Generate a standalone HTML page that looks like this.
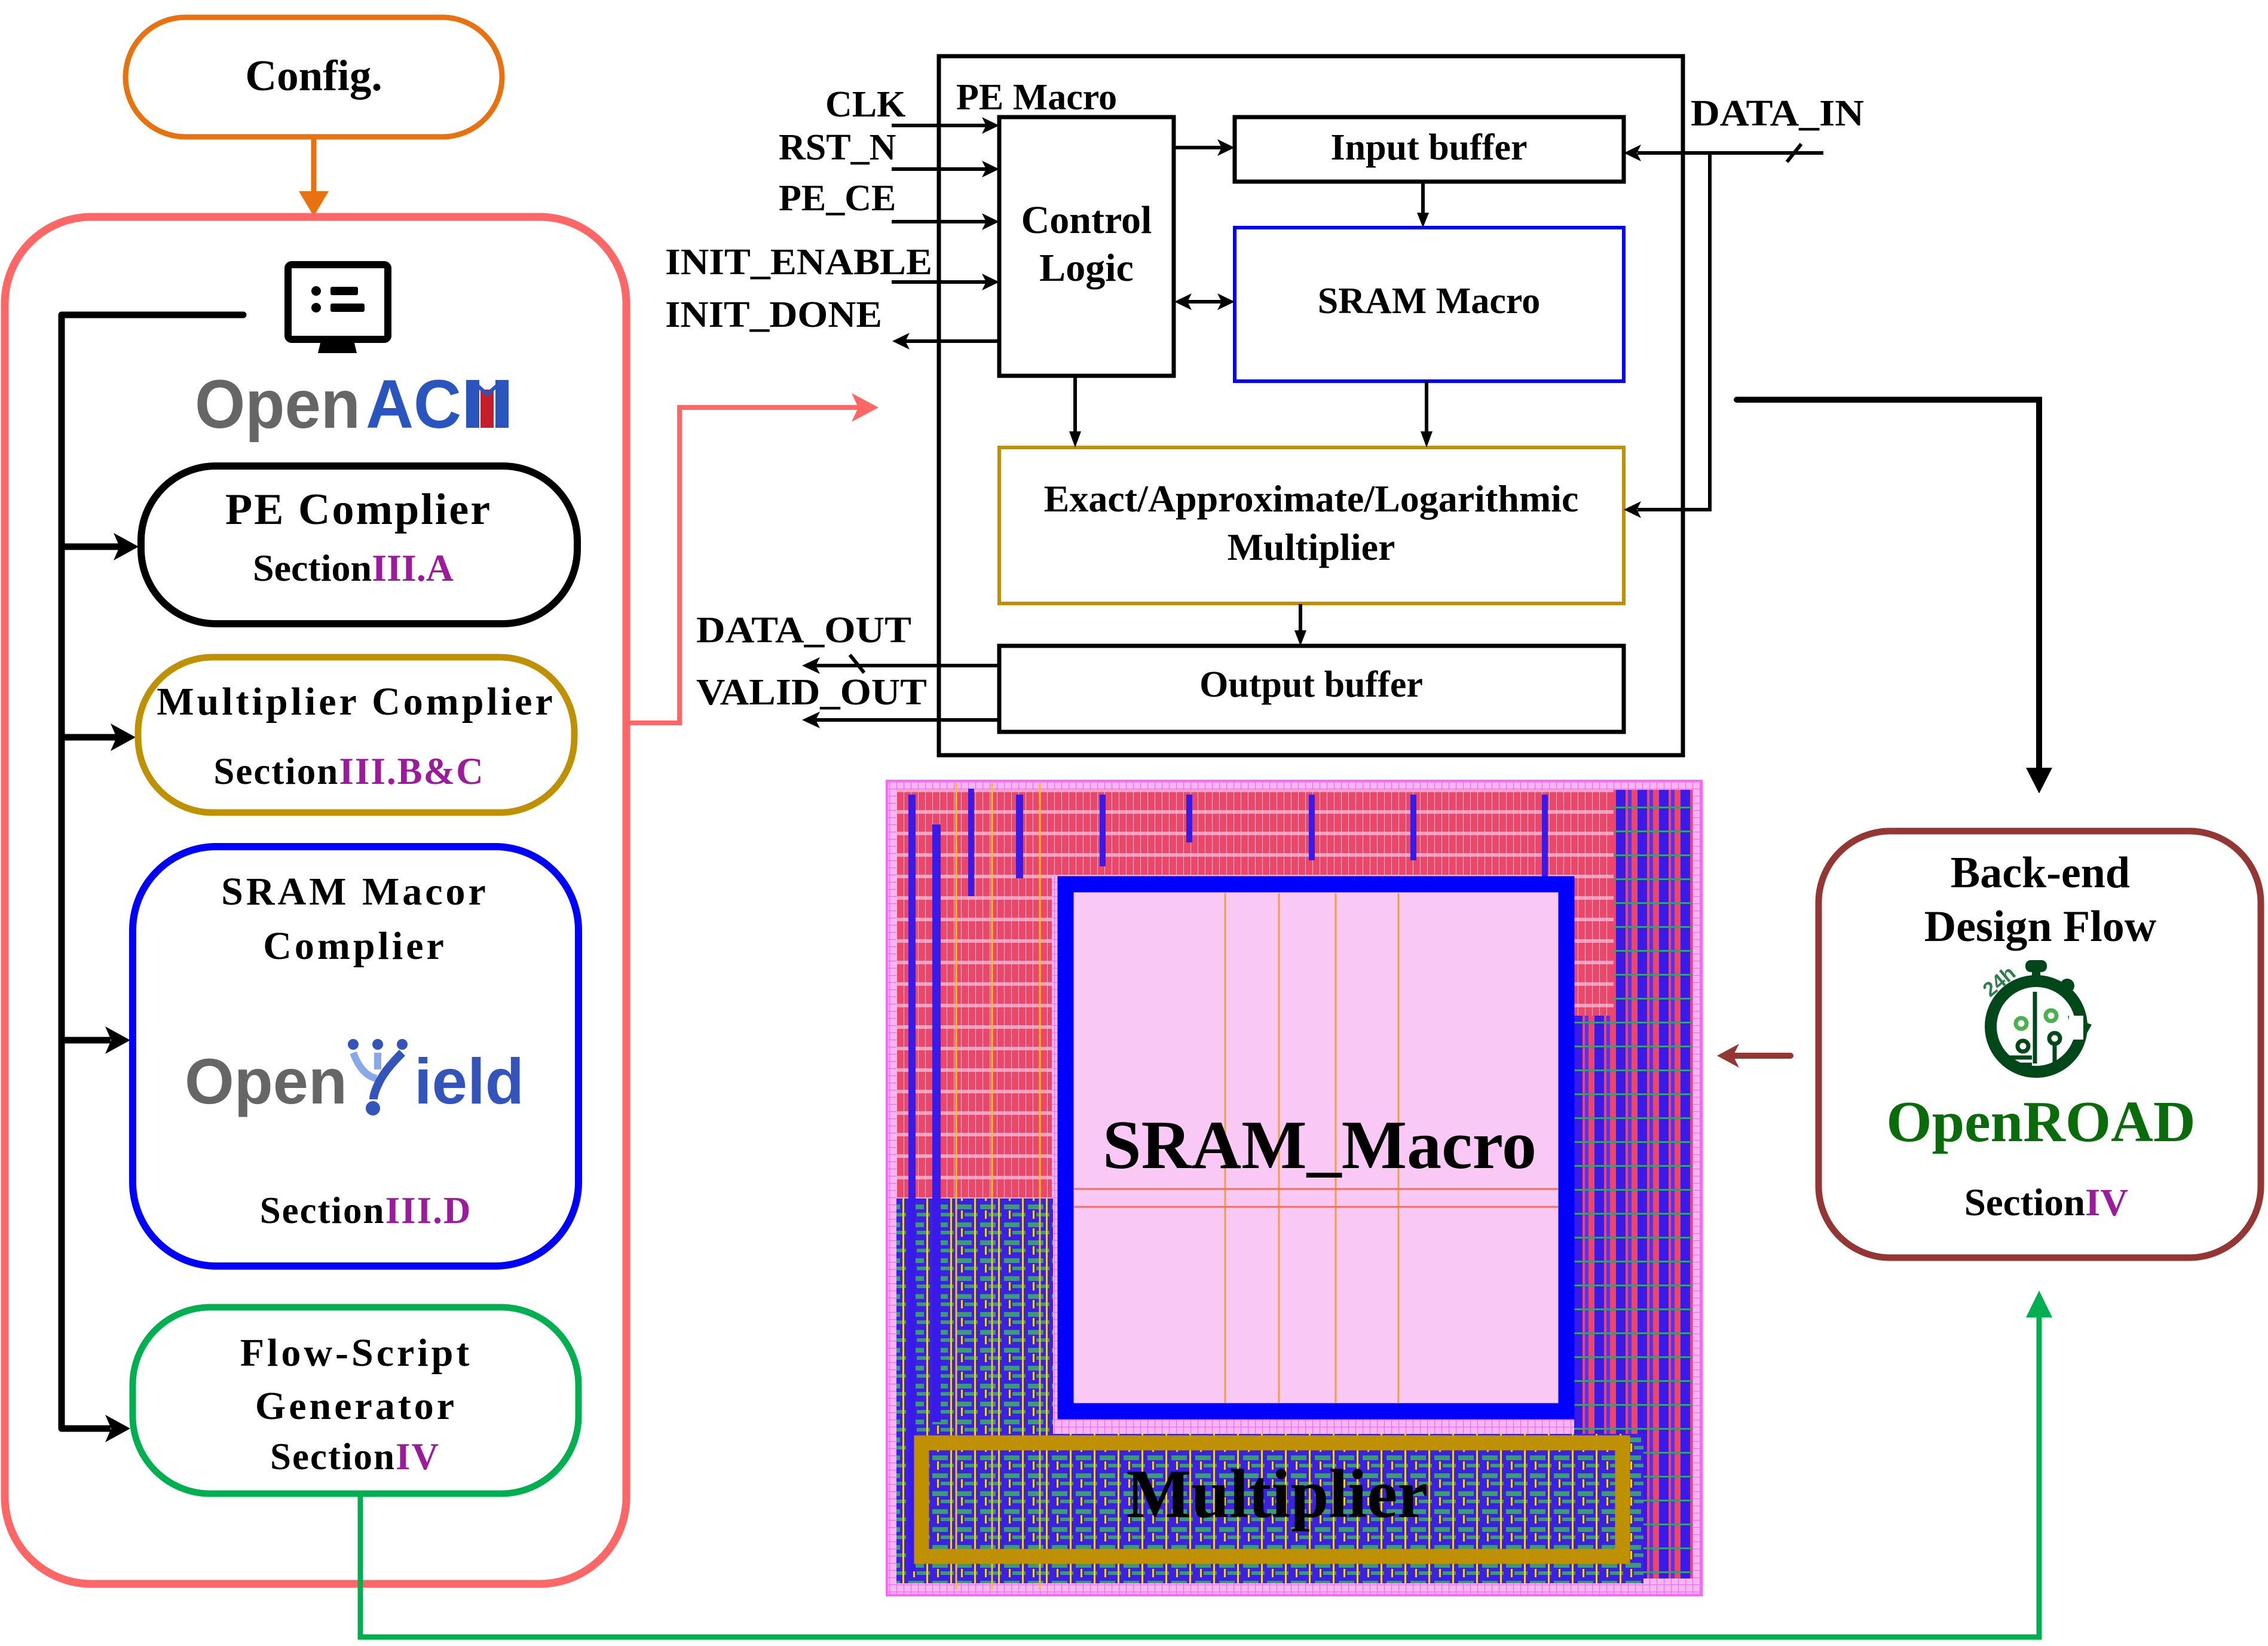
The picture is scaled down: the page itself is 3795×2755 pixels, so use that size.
<!DOCTYPE html>
<html><head><meta charset="utf-8"><style>
html,body{margin:0;padding:0;background:#fff;}
svg{display:block;}
.t{font-family:"Liberation Serif",serif;font-weight:bold;}
.s{font-family:"Liberation Sans",sans-serif;font-weight:bold;}
</style></head><body>
<svg width="3795" height="2755" viewBox="0 0 3795 2755" xmlns="http://www.w3.org/2000/svg">
<defs>
<pattern id="grid" width="12" height="12" patternUnits="userSpaceOnUse">
<rect width="12" height="12" fill="#F7B6F0"/>
<path d="M0 0H12M0 0V12" stroke="#E070E0" stroke-width="2"/>
</pattern>
<pattern id="red" width="12" height="36" patternUnits="userSpaceOnUse">
<rect width="12" height="36" fill="#EE4668"/>
<rect y="24" width="12" height="6" fill="#F7A0C0"/>
<path d="M0 0V36" stroke="#F7B0D0" stroke-width="2"/>
</pattern>
<pattern id="mix" width="40" height="30" patternUnits="userSpaceOnUse">
<rect width="40" height="30" fill="#3A22E0"/>
<rect x="0" y="6" width="26" height="8" fill="#3C9A78"/>
<rect x="14" y="20" width="22" height="6" fill="#3C9A78"/>
<rect x="30" y="0" width="3" height="30" fill="#F0D020"/>
<rect x="8" y="16" width="3" height="14" fill="#F0D020"/>
</pattern>
<pattern id="blue" width="36" height="40" patternUnits="userSpaceOnUse">
<rect width="36" height="40" fill="#EE4668"/>
<rect x="4" width="16" height="40" fill="#3A1AE8"/>
<rect x="24" width="6" height="40" fill="#5533F0"/>
<rect y="30" width="36" height="3" fill="#3C9A78"/>
</pattern>
</defs>

<!-- Config -->
<rect x="210" y="29" width="630" height="200" rx="100" fill="#fff" stroke="#E8720F" stroke-width="9"/>
<text x="525" y="151" class="t" font-size="73" text-anchor="middle">Config.</text>
<line x1="525" y1="230" x2="525" y2="330" stroke="#E8720F" stroke-width="9"/>
<polygon points="500,320 550,320 525,362" fill="#E8720F"/>

<!-- OpenACM big box -->
<rect x="8" y="363" width="1040" height="2288" rx="145" fill="none" stroke="#FF6666" stroke-width="13"/>

<!-- monitor -->
<rect x="482" y="443" width="167" height="125" rx="6" fill="#fff" stroke="#000" stroke-width="12"/>
<circle cx="529" cy="487" r="8" fill="#000"/><circle cx="529" cy="515" r="8" fill="#000"/>
<rect x="553" y="480" width="46" height="14" rx="3" fill="#000"/>
<rect x="553" y="508" width="57" height="14" rx="3" fill="#000"/>
<polygon points="537,570 592,570 597,591 532,591" fill="#000"/>

<!-- OpenACM logo -->
<text x="326" y="716" class="s" font-size="115" fill="#666" textLength="277" lengthAdjust="spacingAndGlyphs">Open</text>
<text x="612" y="716" class="s" font-size="115" fill="#2B55BE" textLength="160" lengthAdjust="spacingAndGlyphs">AC</text>
<rect x="780" y="636" width="22" height="80" fill="#2B55BE"/>
<rect x="829" y="636" width="22" height="80" fill="#2B55BE"/>
<rect x="804" y="652" width="22" height="64" fill="#C41E2B"/>
<polyline points="791,638 815,660 840,638" fill="none" stroke="#2B55BE" stroke-width="6"/>

<!-- black bus -->
<polyline points="407,527 103,527 103,2391" fill="none" stroke="#000" stroke-width="11" stroke-linejoin="round" stroke-linecap="round"/>
<g stroke="#000" stroke-width="11">
<line x1="103" y1="915" x2="200" y2="915"/>
<line x1="103" y1="1234" x2="195" y2="1234"/>
<line x1="103" y1="1741" x2="185" y2="1741"/>
<line x1="103" y1="2391" x2="185" y2="2391"/>
</g>
<polygon points="190,892 232,915 190,938 200,915" fill="#000"/>
<polygon points="185,1211 227,1234 185,1257 195,1234" fill="#000"/>
<polygon points="176,1718 218,1741 176,1764 186,1741" fill="#000"/>
<polygon points="176,2368 218,2391 176,2414 186,2391" fill="#000"/>

<!-- PE Complier -->
<rect x="236" y="780" width="730" height="264" rx="125" fill="#fff" stroke="#000" stroke-width="12"/>
<text x="600" y="877" class="t" font-size="74" text-anchor="middle" letter-spacing="3">PE  Complier</text>
<text x="591" y="972" class="t" font-size="64" text-anchor="middle">Section<tspan fill="#9C1B9C">III.A</tspan></text>

<!-- Multiplier Complier -->
<rect x="231" y="1100" width="730" height="260" rx="125" fill="#fff" stroke="#BF9000" stroke-width="11"/>
<text x="596" y="1196" class="t" font-size="66" text-anchor="middle" letter-spacing="5">Multiplier Complier</text>
<text x="584" y="1312" class="t" font-size="63" text-anchor="middle" letter-spacing="2">Section<tspan fill="#9C1B9C">III.B&amp;C</tspan></text>

<!-- SRAM Macor Complier -->
<rect x="222" y="1417" width="746" height="702" rx="140" fill="#fff" stroke="#0000FF" stroke-width="12"/>
<text x="594" y="1514" class="t" font-size="66" text-anchor="middle" letter-spacing="5">SRAM Macor</text>
<text x="594" y="1605" class="t" font-size="66" text-anchor="middle" letter-spacing="5">Complier</text>
<text x="309" y="1847" class="s" font-size="108" fill="#666" textLength="272" lengthAdjust="spacingAndGlyphs">Open</text>
<circle cx="591" cy="1748" r="9" fill="#3355BB"/><circle cx="632" cy="1748" r="9" fill="#3355BB"/><circle cx="673" cy="1748" r="9" fill="#3355BB"/>
<path d="M591 1762 Q605 1800 630 1805" fill="none" stroke="#88A8E8" stroke-width="12"/>
<line x1="632" y1="1762" x2="632" y2="1790" stroke="#88A8E8" stroke-width="12"/>
<path d="M673 1762 Q645 1790 635 1810 Q625 1830 625 1840" fill="none" stroke="#3355BB" stroke-width="14"/>
<circle cx="624" cy="1855" r="12" fill="#3355BB"/>
<text x="693" y="1847" class="s" font-size="108" fill="#3355BB" textLength="184" lengthAdjust="spacingAndGlyphs">ield</text>
<text x="612" y="2047" class="t" font-size="63" text-anchor="middle" letter-spacing="2">Section<tspan fill="#9C1B9C">III.D</tspan></text>

<!-- Flow-Script -->
<rect x="222" y="2188" width="746" height="312" rx="130" fill="#fff" stroke="#00B050" stroke-width="11"/>
<text x="596" y="2286" class="t" font-size="66" text-anchor="middle" letter-spacing="5">Flow-Script</text>
<text x="596" y="2375" class="t" font-size="66" text-anchor="middle" letter-spacing="5">Generator</text>
<text x="594" y="2459" class="t" font-size="63" text-anchor="middle" letter-spacing="2">Section<tspan fill="#9C1B9C">IV</tspan></text>

<!-- green connector -->
<polyline points="603,2502 603,2740 3412,2740 3412,2200" fill="none" stroke="#00B050" stroke-width="9"/>
<polygon points="3390,2205 3434,2205 3412,2160" fill="#00B050"/>

<!-- red connector -->
<polyline points="1048,1210 1137,1210 1137,682 1440,682" fill="none" stroke="#FF6666" stroke-width="8"/>
<polygon points="1425,658 1470,682 1425,706 1436,682" fill="#FF6666"/>

<!-- PE Macro -->
<rect x="1571" y="94" width="1245" height="1170" fill="#fff" stroke="#000" stroke-width="7"/>
<text x="1600" y="183" class="t" font-size="62">PE Macro</text>
<rect x="1672" y="196" width="292" height="433" fill="#fff" stroke="#000" stroke-width="7"/>
<text x="1818" y="390" class="t" font-size="66" text-anchor="middle">Control</text>
<text x="1818" y="470" class="t" font-size="66" text-anchor="middle">Logic</text>
<rect x="2066" y="196" width="651" height="108" fill="#fff" stroke="#000" stroke-width="7"/>
<text x="2391" y="267" class="t" font-size="62" text-anchor="middle">Input buffer</text>
<rect x="2066" y="381" width="651" height="257" fill="#fff" stroke="#0000FF" stroke-width="6"/>
<text x="2391" y="524" class="t" font-size="62" text-anchor="middle">SRAM Macro</text>
<rect x="1672" y="749" width="1045" height="261" fill="#fff" stroke="#C09000" stroke-width="6"/>
<text x="2194" y="856" class="t" font-size="64" text-anchor="middle">Exact/Approximate/Logarithmic</text>
<text x="2194" y="937" class="t" font-size="64" text-anchor="middle">Multiplier</text>
<rect x="1672" y="1081" width="1045" height="144" fill="#fff" stroke="#000" stroke-width="7"/>
<text x="2194" y="1166" class="t" font-size="62" text-anchor="middle">Output buffer</text>

<!-- signal labels -->
<g class="t" font-size="62">
<text x="1381" y="195">CLK</text>
<text x="1303" y="267">RST_N</text>
<text x="1303" y="352">PE_CE</text>
<text x="1113" y="459" textLength="447" lengthAdjust="spacingAndGlyphs">INIT_ENABLE</text>
<text x="1113" y="547" textLength="363" lengthAdjust="spacingAndGlyphs">INIT_DONE</text>
<text x="2829" y="210" textLength="290" lengthAdjust="spacingAndGlyphs">DATA_IN</text>
<text x="1165" y="1075" textLength="360" lengthAdjust="spacingAndGlyphs">DATA_OUT</text>
<text x="1165" y="1179" textLength="386" lengthAdjust="spacingAndGlyphs">VALID_OUT</text>
</g>

<!-- signal arrows -->
<g stroke="#000" stroke-width="6" fill="none">
<line x1="1492" y1="210" x2="1650" y2="210"/>
<line x1="1492" y1="283" x2="1650" y2="283"/>
<line x1="1492" y1="371" x2="1650" y2="371"/>
<line x1="1492" y1="472" x2="1650" y2="472"/>
<line x1="1515" y1="571" x2="1672" y2="571"/>
<line x1="1965" y1="247" x2="2045" y2="247"/>
<line x1="2381" y1="304" x2="2381" y2="362"/>
<line x1="1985" y1="505" x2="2046" y2="505"/>
<line x1="1799" y1="629" x2="1799" y2="728"/>
<line x1="2387" y1="638" x2="2387" y2="728"/>
<line x1="2176" y1="1011" x2="2176" y2="1061"/>
<polyline points="3051,256 2740,256"/>
<polyline points="2861,256 2861,853 2740,853"/>
<line x1="1365" y1="1114" x2="1672" y2="1114"/>
<line x1="1365" y1="1205" x2="1672" y2="1205"/>
<line x1="2990" y1="271" x2="3014" y2="241"/>
<line x1="1422" y1="1096" x2="1446" y2="1126"/>
</g>
<g fill="#000">
<polygon points="1643,196 1672,210 1643,224 1650,210"/>
<polygon points="1643,269 1672,283 1643,297 1650,283"/>
<polygon points="1643,357 1672,371 1643,385 1650,371"/>
<polygon points="1643,458 1672,472 1643,486 1650,472"/>
<polygon points="1522,557 1493,571 1522,585 1515,571"/>
<polygon points="2037,233 2066,247 2037,261 2044,247"/>
<polygon points="2371,356 2381,381 2391,356"/>
<polygon points="1994,491 1965,505 1994,519 1987,505"/>
<polygon points="2037,491 2066,505 2037,519 2044,505"/>
<polygon points="1789,722 1799,749 1809,722"/>
<polygon points="2377,722 2387,749 2397,722"/>
<polygon points="2166,1055 2176,1081 2186,1055"/>
<polygon points="2746,242 2717,256 2746,270 2739,256"/>
<polygon points="2746,839 2717,853 2746,867 2739,853"/>
<polygon points="1372,1100 1342,1114 1372,1128 1365,1114"/>
<polygon points="1372,1191 1342,1205 1372,1219 1365,1205"/>
</g>

<!-- black connector to back-end -->
<polyline points="2906,669 3412,669 3412,1290" fill="none" stroke="#000" stroke-width="10" stroke-linecap="round"/>
<polygon points="3390,1285 3434,1285 3412,1328" fill="#000"/>

<!-- Layout -->
<rect x="1484" y="1307" width="1363" height="1363" fill="url(#grid)" stroke="#FF66FF" stroke-width="4"/>
<rect x="1500" y="1322" width="1332" height="144" fill="url(#red)"/>
<rect x="1500" y="1466" width="260" height="540" fill="url(#red)"/>
<rect x="2634" y="1466" width="100" height="500" fill="url(#red)"/>
<rect x="2700" y="1322" width="132" height="1320" fill="url(#blue)"/>
<rect x="2634" y="1700" width="80" height="700" fill="url(#blue)"/>
<rect x="1500" y="2006" width="262" height="400" fill="url(#mix)"/>
<rect x="1500" y="2400" width="1250" height="250" fill="url(#mix)"/>
<g fill="#3A1AE8">
<rect x="1520" y="1330" width="12" height="1300"/>
<rect x="1560" y="1380" width="14" height="1000"/>
<rect x="1620" y="1320" width="10" height="180"/>
<rect x="1700" y="1330" width="12" height="140"/>
<rect x="1840" y="1330" width="10" height="120"/>
<rect x="1985" y="1330" width="10" height="80"/>
<rect x="2190" y="1330" width="10" height="110"/>
<rect x="2360" y="1330" width="10" height="110"/>
<rect x="2580" y="1330" width="10" height="140"/>
</g>
<g stroke="#F0C020" stroke-width="3">
<line x1="1600" y1="1310" x2="1600" y2="2660"/>
<line x1="1660" y1="1310" x2="1660" y2="2660"/>
<line x1="1740" y1="1310" x2="1740" y2="2660"/>
</g>
<rect x="1783" y="1480" width="838" height="882" fill="#FAC8F4" stroke="#0000FF" stroke-width="27"/>
<g stroke="#F0A040" stroke-width="3">
<line x1="2050" y1="1495" x2="2050" y2="2348"/>
<line x1="2140" y1="1495" x2="2140" y2="2348"/>
<line x1="2235" y1="1495" x2="2235" y2="2348"/>
<line x1="2340" y1="1495" x2="2340" y2="2348"/>
<line x1="1797" y1="1990" x2="2607" y2="1990" stroke="#F07060"/>
<line x1="1797" y1="2020" x2="2607" y2="2020" stroke="#F07060"/>
</g>
<text x="2208" y="1955" class="t" font-size="116" text-anchor="middle">SRAM_Macro</text>
<rect x="1542" y="2415" width="1173" height="190" fill="none" stroke="#BF9000" stroke-width="25"/>
<text x="2137" y="2539" class="t" font-size="115" text-anchor="middle">Multiplier</text>

<!-- brown arrow -->
<line x1="2996" y1="1767" x2="2900" y2="1767" stroke="#943634" stroke-width="10" stroke-linecap="round"/>
<polygon points="2910,1747 2873,1767 2910,1787 2900,1767" fill="#943634"/>

<!-- Back-end box -->
<rect x="3043" y="1391" width="740" height="714" rx="120" fill="#fff" stroke="#943634" stroke-width="11"/>
<text x="3414" y="1485" class="t" font-size="74" text-anchor="middle">Back-end</text>
<text x="3414" y="1575" class="t" font-size="74" text-anchor="middle">Design Flow</text>
<!-- stopwatch -->
<g>
<circle cx="3407" cy="1718" r="76" fill="none" stroke="#00481A" stroke-width="20"/>
<rect x="3389" y="1607" width="36" height="20" rx="9" fill="#00481A"/>
<rect x="3400" y="1620" width="14" height="25" fill="#00481A"/>
<circle cx="3459" cy="1650" r="12" fill="#00481A"/>
<polygon points="3460,1700 3500,1715 3475,1760" fill="#00481A"/>
<rect x="3462" y="1700" width="24" height="40" fill="#fff"/>
<g stroke="#00481A" stroke-width="7" fill="none">
<line x1="3405" y1="1660" x2="3405" y2="1780"/>
<circle cx="3382" cy="1713" r="9" stroke="#4CAF50"/>
<circle cx="3432" cy="1700" r="9" stroke="#4CAF50"/>
<circle cx="3438" cy="1738" r="9"/>
<circle cx="3385" cy="1751" r="9"/>
<line x1="3438" y1="1747" x2="3438" y2="1785"/>
<line x1="3360" y1="1770" x2="3400" y2="1770"/>
<line x1="3365" y1="1782" x2="3400" y2="1782"/>
</g>
<text x="3330" y="1670" font-family="Liberation Sans,sans-serif" font-weight="bold" font-size="34" fill="#2E7D4F" transform="rotate(-40 3330 1670)">24h</text>
</g>
<text x="3415" y="1910" class="t" font-size="98" text-anchor="middle" fill="#0A6B0A">OpenROAD</text>
<text x="3424" y="2034" class="t" font-size="65" text-anchor="middle">Section<tspan fill="#9C1B9C">IV</tspan></text>
</svg>
</body></html>
